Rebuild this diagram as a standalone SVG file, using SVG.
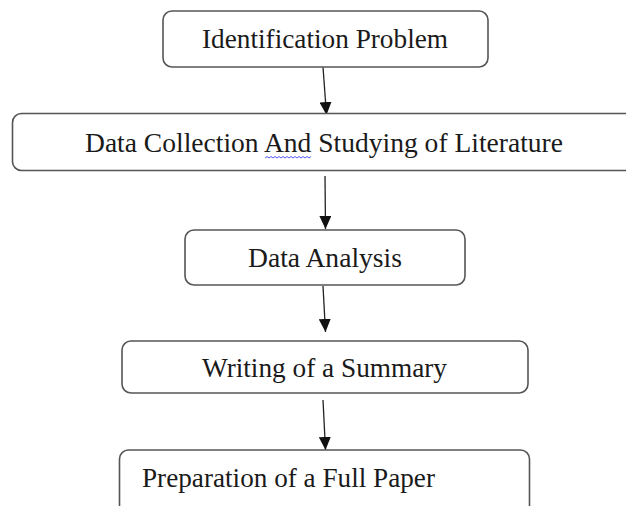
<svg xmlns="http://www.w3.org/2000/svg" width="626" height="506" viewBox="0 0 626 506">
<style>
.box{fill:#fff;stroke:#555;stroke-width:1.6}
.lbl{font-family:"Liberation Serif","Times New Roman",serif;font-size:27px;fill:#1a1a1a}
.conn{stroke:#222;stroke-width:1.3;fill:none;marker-end:url(#ah)}
</style>
<defs>
<marker id="ah" markerUnits="userSpaceOnUse" markerWidth="14" markerHeight="12" refX="13" refY="6" orient="auto">
<path d="M0,0 L13,6 L0,12 z" fill="#111"/>
</marker>
</defs>
<rect width="626" height="506" fill="#fff"/>
<g id="connectors">
<line class="conn" x1="323" y1="67" x2="326.5" y2="115"/>
<line class="conn" x1="325" y1="176" x2="325.5" y2="229"/>
<line class="conn" x1="323" y1="286" x2="325.5" y2="332"/>
<line class="conn" x1="323" y1="400" x2="325.5" y2="450"/>
</g>
<g id="n1">
<rect class="box" x="163" y="11" width="325" height="56" rx="9"/>
<text class="lbl" x="202" y="48" textLength="246" lengthAdjust="spacingAndGlyphs">Identification Problem</text>
</g>
<g id="n2">
<rect class="box" x="12.5" y="113.5" width="630" height="57" rx="9"/>
<text class="lbl" x="85" y="152" textLength="478" lengthAdjust="spacingAndGlyphs">Data Collection And Studying of Literature</text>
<path d="M265,158 l2,-1.5 l2,1.5 l2,-1.5 l2,1.5 l2,-1.5 l2,1.5 l2,-1.5 l2,1.5 l2,-1.5 l2,1.5 l2,-1.5 l2,1.5 l2,-1.5 l2,1.5 l2,-1.5 l2,1.5 l2,-1.5 l2,1.5 l2,-1.5 l2,1.5 l2,-1.5 l2,1.5 l2,-1.5" fill="none" stroke="#5a5aff" stroke-width="1"/>
</g>
<g id="n3">
<rect class="box" x="185" y="230" width="280" height="55" rx="9"/>
<text class="lbl" x="248" y="267" textLength="154" lengthAdjust="spacingAndGlyphs">Data Analysis</text>
</g>
<g id="n4">
<rect class="box" x="122" y="341" width="406" height="52" rx="9"/>
<text class="lbl" x="202" y="377" textLength="245" lengthAdjust="spacingAndGlyphs">Writing of a Summary</text>
</g>
<g id="n5">
<rect class="box" x="119.5" y="450" width="410" height="70" rx="9"/>
<text class="lbl" x="142" y="487" textLength="293" lengthAdjust="spacingAndGlyphs">Preparation of a Full Paper</text>
</g>
</svg>
